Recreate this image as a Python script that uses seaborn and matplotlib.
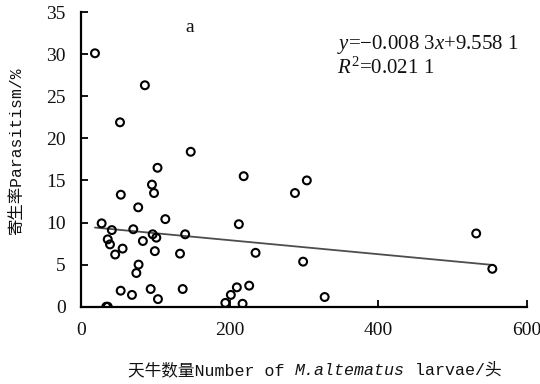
import numpy as np
import pandas as pd
import matplotlib
matplotlib.use("Agg")
import matplotlib.pyplot as plt
import seaborn as sns
from matplotlib.offsetbox import TextArea, HPacker, AnchoredOffsetbox

# ---- data ----
larvae = [18.8, 86, 52.5, 147.7, 103, 95.5, 98.3, 53.6, 219, 304, 288,
          27.8, 41.5, 36, 39, 46, 56, 77, 70.4, 83.3, 96.5, 101.4, 99.4,
          77.5, 74.5, 113.5, 140.2, 133.3, 53.4, 68.6, 93.8, 103.6, 136.9,
          34, 36, 212.5, 235, 226.4, 209.8, 201.7, 194.3, 217.5, 532, 553.7,
          299, 328]
parasitism = [30.1, 26.3, 21.9, 18.4, 16.5, 14.5, 13.5, 13.3, 15.5, 15.0, 13.5,
              9.9, 9.1, 8.0, 7.4, 6.2, 6.9, 11.8, 9.2, 7.8, 8.6, 8.2, 6.6,
              5.0, 4.0, 10.4, 8.6, 6.3, 1.9, 1.4, 2.1, 0.9, 2.1,
              0.0, 0.0, 9.8, 6.4, 2.5, 2.3, 1.4, 0.45, 0.35, 8.7, 4.5,
              5.35, 1.15]
slope = -0.0083
intercept = 9.5581
x_ticks = [0, 200, 400, 600]
y_ticks = [0, 5, 10, 15, 20, 25, 30, 35]
eq_text = "$y$=\u22120.008 3$x$+9.558 1"
r2_text = "$R^2$=0.021 1"
panel_label = "a"

sns.set_theme(style="white")
plt.rcParams["font.family"] = ["Liberation Serif", "DejaVu Sans"]
plt.rcParams["mathtext.fontset"] = "custom"
plt.rcParams["mathtext.rm"] = "Liberation Serif"
plt.rcParams["mathtext.it"] = "Liberation Serif:italic"

df = pd.DataFrame({"x": larvae, "y": parasitism})
xs = np.array([min(larvae), max(larvae)])
line_df = pd.DataFrame({"x": xs, "y": slope * xs + intercept})

fig = plt.figure(figsize=(5.4, 3.84), dpi=100)
ax = fig.add_axes([0.15, 0.2013, 0.8254, 0.7674])

sns.lineplot(data=line_df, x="x", y="y", ax=ax, color="#4d4d4d", linewidth=1.3)
sns.scatterplot(data=df, x="x", y="y", ax=ax, marker="o", s=32,
                facecolors="none", edgecolor="black", linewidth=1.5, zorder=3)

ax.set_xlim(0, 600)
ax.set_ylim(0, 35)
ax.set_xticks(x_ticks)
ax.set_yticks(y_ticks)
ax.set_xlabel("")
ax.set_ylabel("")
for s in ["top", "right"]:
    ax.spines[s].set_visible(False)
for s in ["left", "bottom"]:
    ax.spines[s].set_color("black")
    ax.spines[s].set_linewidth(1.6)
ax.tick_params(axis="both", direction="in", length=5, width=1.3, color="black",
               labelsize=14, pad=11, labelcolor="#111111")
ax.tick_params(axis="x", bottom=True)
ax.tick_params(axis="y", left=True)

# equation and panel label
ax.text(337 / 540, 1 - 49 / 384, eq_text, transform=fig.transFigure,
        fontsize=15, ha="left", va="baseline", color="#111111")
ax.text(337 / 540, 1 - 74 / 384, r2_text, transform=fig.transFigure,
        fontsize=15, ha="left", va="baseline", color="#111111")
ax.text(190 / 540, 1 - 28 / 384, panel_label, transform=fig.transFigure,
        fontsize=14, ha="center", va="center", color="#111111")

# y label
fig.text(17 / 540, 1 - 151.5 / 384, "寄生率Parasitism/%", rotation=90,
         ha="center", va="center", fontsize=11.8,
         family=["Liberation Mono", "Noto Sans CJK SC"], color="#111111")

# x label with italic species name
fam = ["Liberation Mono", "Noto Sans CJK SC"]
fs = 12
p1 = TextArea("天牛数量Number of ", textprops=dict(family=fam, fontsize=fs, color="#111111"))
p2 = TextArea("M.altematus", textprops=dict(family=["Liberation Mono"], style="italic",
                                             fontsize=fs, color="#111111"))
p3 = TextArea(" larvae/头", textprops=dict(family=fam, fontsize=fs, color="#111111"))
box = HPacker(children=[p1, p2, p3], align="baseline", pad=0, sep=0)
anch = AnchoredOffsetbox(loc="center", child=box, pad=0, frameon=False,
                         bbox_to_anchor=(315 / 540, 1 - 370 / 384),
                         bbox_transform=fig.transFigure, borderpad=0)
fig.add_artist(anch)

fig.savefig("out.png", dpi=100)
